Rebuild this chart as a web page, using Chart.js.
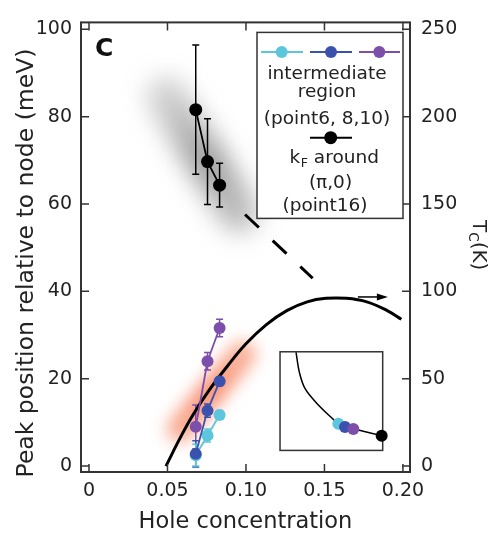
<!DOCTYPE html>
<html>
<head>
<meta charset="utf-8">
<script src="https://cdn.jsdelivr.net/npm/chart.js@4.4.1/dist/chart.umd.min.js"></script>
<style>
  html, body { margin: 0; padding: 0; background: #fff; }
  #wrap { width: 491px; height: 537px; }
</style>
</head>
<body>
<div id="wrap"><canvas id="c"></canvas></div>
<script>
// tick labels
const xTicks = [0, 0.05, 0.10, 0.15, 0.20];
const xTickLabels = ['0', '0.05', '0.10', '0.15', '0.20'];
const peakTicks = [0, 20, 40, 60, 80, 100];
const tcTicks = [0, 50, 100, 150, 200, 250];

// k_F around (pi,0), point16
const holeConc = [0.068, 0.0755, 0.0832];
const kfPeak = [81.6, 69.7, 64.3];
const kfErr = [14.8, 9.8, 5.0];

// intermediate region, point 6 / 8 / 10
const cyanPeak = [2.5, 7.0, 11.7];
const cyanErr = [2.5, 1.5, 1.0];
const bluePeak = [2.8, 12.7, 19.4];
const blueErr = [3.0, 1.5, 1.0];
const purplePeak = [9.0, 24.0, 31.6];
const purpleErr = [5.0, 2.0, 2.0];

// dashed extrapolation
const dashConc = [0.0994, 0.1425];
const dashPeak = [57.6, 43.0];

// Tc dome (right axis, K)
const domeConc = [0.049, 0.058, 0.066, 0.077, 0.088, 0.100, 0.113, 0.126, 0.139, 0.151, 0.164, 0.177, 0.190, 0.199];
const domeTc = [0, 16, 29, 44, 57, 70, 81, 89, 94, 96, 96, 94, 89, 84];

// inset (fermi surface), local 0..1 coords
const insetCurveU = [0.156, 0.188, 0.243, 0.357, 0.519, 0.568, 0.633, 0.714, 0.811, 0.990];
const insetCurveV = [0.993, 0.794, 0.628, 0.479, 0.315, 0.273, 0.243, 0.220, 0.195, 0.150];
const insetDotU = [0.568, 0.633, 0.714, 0.990];
const insetDotV = [0.271, 0.238, 0.216, 0.149];

const CYAN = '#5cc6dc', BLUE = '#3a51ad', PURPLE = '#7b4faa', INK = '#222', AXIS = '#333';
const FONT = 'DejaVu Sans';

const xMin = -0.0051, xMax = 0.2045;
const yMin = -1.35, yMax = 101.57;
const tcScale = 2.5;
const insetX = [0.1217, 0.1871], insetY = [3.59, 26.17];

const pts = (xs, ys) => xs.map((x, i) => ({x: x, y: ys[i]}));

const series = (label, ys, color, err, radius) => ({
  label: label,
  data: pts(holeConc, ys),
  err: err,
  showLine: true,
  borderColor: color,
  backgroundColor: color,
  borderWidth: 1.8,
  pointRadius: radius,
  pointBorderWidth: 0,
  xAxisID: 'x', yAxisID: 'y'
});

// blurred bands, error bars, inset frame
const underlay = {
  id: 'underlay',
  beforeDatasetsDraw(chart) {
    const {ctx, chartArea: a, scales: s} = chart;
    ctx.save();
    ctx.beginPath();
    ctx.rect(a.left, a.top, a.right - a.left, a.bottom - a.top);
    ctx.clip();
    const band = (x0, y0, x1, y1, w, blur, stops) => {
      const p0x = s.x.getPixelForValue(x0), p0y = s.y.getPixelForValue(y0);
      const p1x = s.x.getPixelForValue(x1), p1y = s.y.getPixelForValue(y1);
      const g = ctx.createLinearGradient(p0x, p0y, p1x, p1y);
      stops.forEach(st => g.addColorStop(st[0], st[1]));
      ctx.save();
      ctx.filter = 'blur(' + blur + 'px)';
      ctx.lineCap = 'round';
      ctx.lineWidth = w;
      ctx.strokeStyle = g;
      ctx.beginPath();
      ctx.moveTo(p0x, p0y);
      ctx.lineTo(p1x, p1y);
      ctx.stroke();
      ctx.restore();
    };
    band(0.0495, 84.5, 0.0955, 58.0, 40, 12,
      [[0, 'rgba(120,120,120,0.35)'], [0.55, 'rgba(90,90,90,0.6)'], [1, 'rgba(110,110,110,0.45)']]);
    band(0.058, 8.5, 0.098, 25.6, 27, 8,
      [[0, 'rgba(246,120,80,0.6)'], [0.5, 'rgba(246,110,70,0.75)'], [1, 'rgba(246,125,85,0.6)']]);

    // error bars
    chart.data.datasets.forEach(ds => {
      if (!ds.err) return;
      ctx.strokeStyle = ds.borderColor;
      ctx.lineWidth = 1.5;
      ds.data.forEach((p, i) => {
        const px = s.x.getPixelForValue(p.x);
        const hi = s.y.getPixelForValue(p.y + ds.err[i]);
        const lo = s.y.getPixelForValue(p.y - ds.err[i]);
        ctx.beginPath();
        ctx.moveTo(px, hi); ctx.lineTo(px, lo);
        ctx.moveTo(px - 3.5, hi); ctx.lineTo(px + 3.5, hi);
        ctx.moveTo(px - 3.5, lo); ctx.lineTo(px + 3.5, lo);
        ctx.stroke();
      });
    });

    // inset frame
    const l = s.xi.getPixelForValue(0), r = s.xi.getPixelForValue(1);
    const t = s.yi.getPixelForValue(1), b = s.yi.getPixelForValue(0);
    ctx.fillStyle = '#fff';
    ctx.fillRect(l, t, r - l, b - t);
    ctx.strokeStyle = AXIS;
    ctx.lineWidth = 1.5;
    ctx.strokeRect(l, t, r - l, b - t);
    ctx.restore();
  }
};

// frame, inward ticks, titles, legend, arrow
const overlay = {
  id: 'overlay',
  afterDraw(chart) {
    const {ctx, chartArea: a, scales: s} = chart;
    ctx.save();
    ctx.strokeStyle = AXIS;
    ctx.lineWidth = 2;
    ctx.strokeRect(a.left, a.top, a.right - a.left, a.bottom - a.top);
    ctx.lineWidth = 1.5;
    ctx.beginPath();
    xTicks.forEach(v => {
      const px = s.x.getPixelForValue(v);
      ctx.moveTo(px, a.bottom); ctx.lineTo(px, a.bottom - 8);
      ctx.moveTo(px, a.top); ctx.lineTo(px, a.top + 8);
    });
    peakTicks.forEach(v => {
      const py = s.y.getPixelForValue(v);
      ctx.moveTo(a.left, py); ctx.lineTo(a.left + 8, py);
    });
    tcTicks.forEach(v => {
      const py = s.y2.getPixelForValue(v);
      ctx.moveTo(a.right, py); ctx.lineTo(a.right - 8, py);
    });
    ctx.stroke();

    // arrow pointing to the Tc axis
    const ay = s.y2.getPixelForValue(96.8);
    const ax0 = s.x.getPixelForValue(0.1713), ax1 = s.x.getPixelForValue(0.1904);
    ctx.strokeStyle = '#000';
    ctx.lineWidth = 1.5;
    ctx.beginPath();
    ctx.moveTo(ax0, ay); ctx.lineTo(ax1 - 6, ay);
    ctx.stroke();
    ctx.fillStyle = '#000';
    ctx.beginPath();
    ctx.moveTo(ax1, ay); ctx.lineTo(ax1 - 11, ay - 3.5); ctx.lineTo(ax1 - 11, ay + 3.5);
    ctx.closePath();
    ctx.fill();

    // panel letter
    ctx.fillStyle = '#111';
    ctx.font = 'bold 25px "' + FONT + '"';
    ctx.textAlign = 'left';
    ctx.textBaseline = 'alphabetic';
    ctx.fillText('C', a.left + 14, a.top + 34);

    // left title
    ctx.fillStyle = INK;
    ctx.save();
    ctx.translate(33, 263);
    ctx.rotate(-Math.PI / 2);
    ctx.font = '23.5px "' + FONT + '"';
    ctx.textAlign = 'center';
    ctx.fillText('Peak position relative to node (meV)', 0, 0);
    ctx.restore();

    // right title T_C(K)
    ctx.save();
    ctx.translate(473, 220);
    ctx.rotate(Math.PI / 2);
    ctx.textAlign = 'left';
    ctx.font = '20px "' + FONT + '"';
    ctx.fillText('T', 0, 0);
    let w = ctx.measureText('T').width;
    ctx.font = '13.5px "' + FONT + '"';
    ctx.fillText('C', w, 4);
    w += ctx.measureText('C').width;
    ctx.font = '20px "' + FONT + '"';
    ctx.fillText('(K)', w, 0);
    ctx.restore();

    // legend
    const L = a.left + 176, T = a.top + 10, W = 146, H = 186;
    ctx.fillStyle = '#fff';
    ctx.fillRect(L, T, W, H);
    ctx.strokeStyle = AXIS;
    ctx.lineWidth = 1.5;
    ctx.strokeRect(L, T, W, H);
    const sample = (x0, x1, xm, y, col, r) => {
      ctx.strokeStyle = col;
      ctx.lineWidth = 2;
      ctx.beginPath();
      ctx.moveTo(L + x0, T + y); ctx.lineTo(L + x1, T + y);
      ctx.stroke();
      ctx.fillStyle = col;
      ctx.beginPath();
      ctx.arc(L + xm, T + y, r, 0, Math.PI * 2);
      ctx.fill();
    };
    sample(4, 46, 24.7, 19.7, CYAN, 6);
    sample(53, 95, 74, 19.7, BLUE, 6);
    sample(102, 143, 122.3, 19.7, PURPLE, 6);
    sample(53, 95, 73.7, 105.3, '#000', 6.5);

    ctx.fillStyle = INK;
    ctx.font = '18.5px "' + FONT + '"';
    ctx.textAlign = 'center';
    ctx.fillText('intermediate', L + 70, T + 47);
    ctx.fillText('region', L + 70, T + 64.3);
    ctx.fillText('(point6, 8,10)', L + 70, T + 91.3);
    ctx.fillText('(\u03c0,0)', L + 73.5, T + 156);
    ctx.fillText('(point16)', L + 68, T + 178.7);

    ctx.textAlign = 'left';
    const kw = ctx.measureText('k').width;
    const aw = ctx.measureText(' around').width;
    ctx.font = '12.5px "' + FONT + '"';
    const fw = ctx.measureText('F').width;
    let kx = L + 77 - (kw + fw + aw) / 2;
    ctx.font = '18.5px "' + FONT + '"';
    ctx.fillText('k', kx, T + 131);
    ctx.font = '12.5px "' + FONT + '"';
    ctx.fillText('F', kx + kw + 0.5, T + 135);
    ctx.font = '18.5px "' + FONT + '"';
    ctx.fillText(' around', kx + kw + fw + 0.5, T + 131);
    ctx.restore();
  }
};

const tickFont = {family: FONT, size: 19};
const xiMin = (xMin - insetX[0]) / (insetX[1] - insetX[0]);
const xiMax = (xMax - insetX[0]) / (insetX[1] - insetX[0]);
const yiMin = (yMin - insetY[0]) / (insetY[1] - insetY[0]);
const yiMax = (yMax - insetY[0]) / (insetY[1] - insetY[0]);

new Chart(document.getElementById('c'), {
  type: 'scatter',
  data: {
    datasets: [
      // inset dots
      {
        label: 'inset dots',
        data: pts(insetDotU, insetDotV),
        pointRadius: 6,
        pointBorderWidth: 0,
        backgroundColor: [CYAN, BLUE, PURPLE, '#000'],
        xAxisID: 'xi', yAxisID: 'yi'
      },
      {
        label: 'inset curve',
        data: pts(insetCurveU, insetCurveV),
        showLine: true,
        tension: 0.35,
        borderColor: '#000',
        borderWidth: 1.5,
        pointRadius: 0,
        xAxisID: 'xi', yAxisID: 'yi'
      },
      series('kF (point16)', kfPeak, '#000', kfErr, 6.5),
      series('point10', purplePeak, PURPLE, purpleErr, 6),
      series('point8', bluePeak, BLUE, blueErr, 6),
      series('point6', cyanPeak, CYAN, cyanErr, 6),
      {
        label: 'dashed',
        data: pts(dashConc, dashPeak),
        showLine: true,
        borderColor: '#000',
        borderWidth: 3,
        borderDash: [19, 19],
        pointRadius: 0,
        xAxisID: 'x', yAxisID: 'y'
      },
      {
        label: 'Tc',
        data: pts(domeConc, domeTc),
        showLine: true,
        tension: 0.4,
        borderColor: '#000',
        borderWidth: 3,
        pointRadius: 0,
        xAxisID: 'x', yAxisID: 'y2'
      }
    ]
  },
  options: {
    responsive: true,
    maintainAspectRatio: false,
    animation: false,
    devicePixelRatio: 1,
    layout: {padding: {top: 13, left: 0, right: 0, bottom: 0}},
    plugins: {legend: {display: false}, tooltip: {enabled: false}},
    scales: {
      x: {
        type: 'linear', position: 'bottom', min: xMin, max: xMax,
        afterBuildTicks: sc => { sc.ticks = xTicks.map(v => ({value: v})); },
        afterFit: sc => { sc.height = 65; },
        ticks: {font: tickFont, color: INK, padding: 8, maxRotation: 0, autoSkip: false,
          callback: (v, i) => xTickLabels[i]},
        grid: {display: false, drawTicks: false},
        border: {display: false},
        title: {display: true, text: 'Hole concentration', color: INK,
          font: {family: FONT, size: 22.5}, padding: {top: 0, bottom: 1}}
      },
      y: {
        type: 'linear', position: 'left', min: yMin, max: yMax,
        afterBuildTicks: sc => { sc.ticks = peakTicks.map(v => ({value: v})); },
        afterFit: sc => { sc.width = 81; },
        ticks: {font: tickFont, color: INK, padding: 9},
        grid: {display: false, drawTicks: false},
        border: {display: false}
      },
      y2: {
        type: 'linear', position: 'right', min: yMin * tcScale, max: yMax * tcScale,
        afterBuildTicks: sc => { sc.ticks = tcTicks.map(v => ({value: v})); },
        afterFit: sc => { sc.width = 81; },
        ticks: {font: tickFont, color: INK, padding: 11},
        grid: {display: false, drawTicks: false},
        border: {display: false}
      },
      xi: {type: 'linear', display: false, min: xiMin, max: xiMax},
      yi: {type: 'linear', display: false, min: yiMin, max: yiMax}
    }
  },
  plugins: [underlay, overlay]
});
</script>
</body>
</html>
